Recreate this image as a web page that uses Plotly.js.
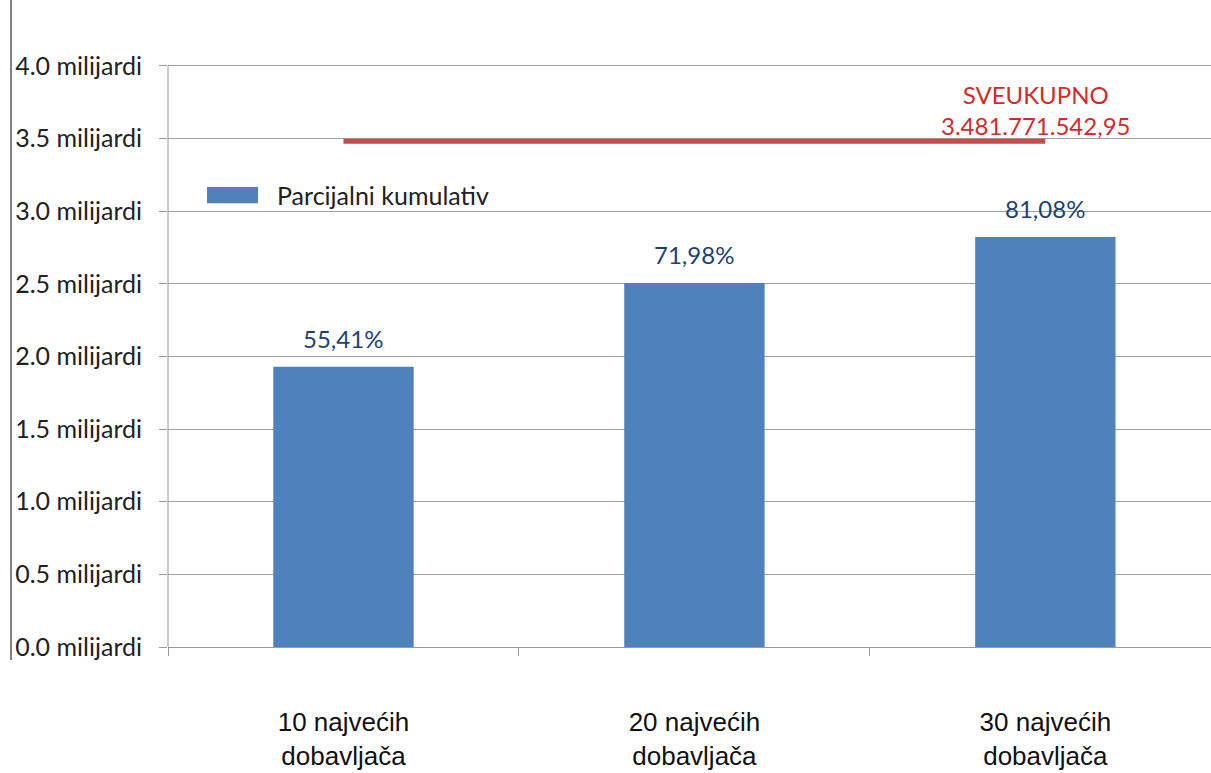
<!DOCTYPE html>
<html>
<head>
<meta charset="utf-8">
<script src="https://cdn.plot.ly/plotly-3.0.1.min.js"></script>
<style>html,body{margin:0;padding:0;background:#fff;}#chart{width:1211px;height:773px;}</style>
</head>
<body>
<div id="chart"></div>
<script>
// Data (values in billions)
var categories = ['10 najvećih<br>dobavljača', '20 najvećih<br>dobavljača', '30 najvećih<br>dobavljača'];
var values = [1.929, 2.506, 2.823];
var percentLabels = ['55,41%', '71,98%', '81,08%'];
var total = 3.48177154295;
var totalLabel = 'SVEUKUPNO<br>3.481.771.542,95';
var seriesName = 'Parcijalni kumulativ';
var tickVals = [0, 0.5, 1, 1.5, 2, 2.5, 3, 3.5, 4];
var tickText = ['0.0 milijardi', '0.5 milijardi', '1.0 milijardi', '1.5 milijardi', '2.0 milijardi', '2.5 milijardi', '3.0 milijardi', '3.5 milijardi', '4.0 milijardi'];

var baseFont = 'Lato, "Open Sans", sans-serif';

var traces = [
  {
    type: 'bar', x: categories, y: values, name: seriesName,
    marker: {color: '#4F81BD'}, width: 0.4, showlegend: false, hoverinfo: 'skip'
  },
  {
    type: 'scatter', mode: 'lines', x: [categories[0], categories[2]], y: [total, total],
    line: {color: '#C0504D', width: 5}, showlegend: false, hoverinfo: 'skip', cliponaxis: false
  }
];

var annotations = percentLabels.map(function (t, i) {
  return {x: categories[i], y: values[i], xref: 'x', yref: 'y', text: t, showarrow: false,
    yanchor: 'bottom', yshift: 12, font: {family: baseFont, size: 24, color: '#1F3F77'}};
});
annotations.push({xref: 'paper', yref: 'paper', x: 0.8313, y: 0.830, text: totalLabel, showarrow: false,
  xanchor: 'center', yanchor: 'middle', font: {family: baseFont, size: 24, color: '#D42A2A'}});
annotations.push({xref: 'paper', yref: 'paper', x: 0.1026, y: 0.6986, text: seriesName, showarrow: false,
  xanchor: 'left', yanchor: 'middle', font: {family: baseFont, size: 25, color: '#222'}});

var layout = {
  width: 1211, height: 773,
  margin: {l: 168, r: 0, t: 0, b: 126},
  paper_bgcolor: '#fff', plot_bgcolor: '#fff',
  showlegend: false,
  xaxis: {
    type: 'category', range: [-0.5, 2.472], tickson: 'boundaries',
    ticks: 'outside', ticklen: 8, tickcolor: '#999', tickwidth: 1,
    showline: true, linecolor: '#999', linewidth: 1, showgrid: false, zeroline: false,
    ticklabelstandoff: 52,
    tickfont: {family: '"Liberation Sans"', size: 26, color: '#111'}
  },
  yaxis: {
    range: [0, 4.454], tickvals: tickVals, ticktext: tickText,
    ticks: 'outside', ticklen: 8, tickcolor: '#999', tickwidth: 1,
    showline: false, showgrid: true, gridcolor: '#A0A0A0', gridwidth: 1, zeroline: false,
    ticklabelstandoff: 12,
    tickfont: {family: baseFont, size: 25, color: '#222'}
  },
  shapes: [
    {type: 'line', xref: 'paper', yref: 'y', x0: 0, x1: 0, y0: 0, y1: 4, line: {color: '#999', width: 1}},
    {type: 'line', xref: 'paper', yref: 'paper', x0: -0.1505, x1: -0.1505, y0: 1, y1: -0.02, line: {color: '#808080', width: 2}},
    {type: 'rect', xref: 'paper', yref: 'paper', x0: 0.0374, x1: 0.0863, y0: 0.686, y1: 0.711, fillcolor: '#4F81BD', line: {width: 0}}
  ],
  annotations: annotations
};

Plotly.newPlot('chart', traces, layout, {displayModeBar: false, staticPlot: true});
</script>
</body>
</html>
